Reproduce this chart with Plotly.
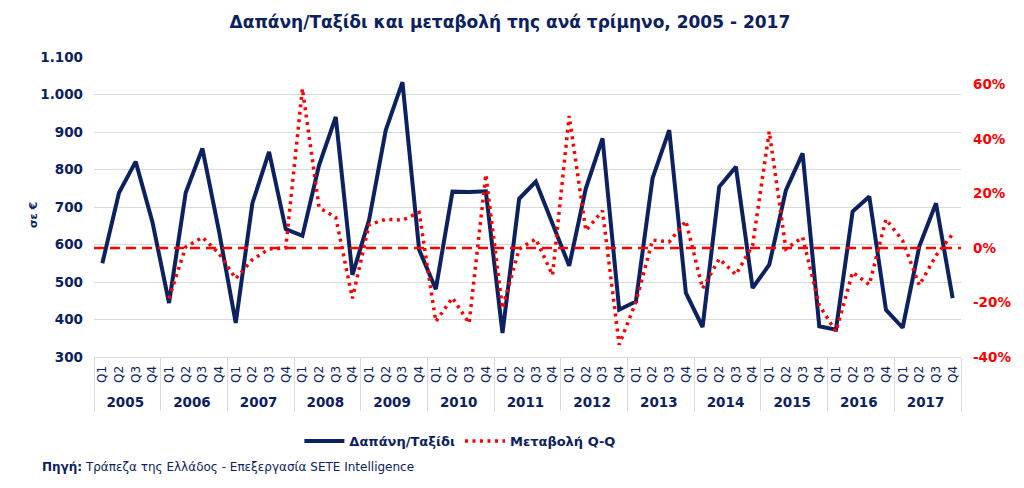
import plotly.graph_objects as go

YEARS = ["2005", "2006", "2007", "2008", "2009", "2010", "2011",
         "2012", "2013", "2014", "2015", "2016", "2017"]
QUARTERS = ["Q1", "Q2", "Q3", "Q4"]

# Δαπάνη/Ταξίδι (€), per quarter
SPEND = [
    550, 738, 821, 661,
    444, 738, 856, 635,
    391, 710, 847, 641,
    623, 812, 940, 519,
    666, 905, 1033, 586,
    481, 741, 740, 742,
    364, 722, 768, 657,
    543, 750, 883, 426,
    448, 777, 905, 471,
    380, 754, 807, 484,
    546, 745, 843, 382,
    373, 688, 728, 426,
    378, 595, 710, 457,
]

# Μεταβολή Q-Q (%), per quarter
CHANGE = [
    None, None, None, None,
    -18.5, 0.3, 3.9, -2.0,
    -11.3, -4.3, -0.4, 0.0,
    58.4, 14.8, 11.2, -18.5,
    8.5, 10.5, 10.2, 13.0,
    -27.0, -18.3, -27.6, 26.9,
    -22.2, -0.4, 3.3, -10.0,
    48.4, 6.3, 13.6, -35.5,
    -19.8, 2.9, 2.2, 9.9,
    -14.9, -4.0, -9.8, 0.9,
    42.7, -0.4, 3.9, -21.0,
    -30.7, -8.9, -13.5, 10.5,
    2.7, -13.7, -2.8, 5.1,
]

LEFT_TICKS = [300, 400, 500, 600, 700, 800, 900, 1000, 1100]
LEFT_LABELS = ["300", "400", "500", "600", "700", "800", "900", "1.000", "1.100"]
RIGHT_TICKS = [-0.4, -0.2, 0.0, 0.2, 0.4, 0.6]
RIGHT_LABELS = ["-40%", "-20%", "0%", "20%", "40%", "60%"]

NAVY = "#0C2160"
RED = "#FF0000"
GRID = "#D9D9D9"
FONT = "DejaVu Sans"

x_outer = []
x_inner = []
for y in YEARS:
    for q in QUARTERS:
        x_outer.append("<b><span style='font-size:13.5px'>%s</span></b>" % y)
        x_inner.append(" " + q)

change_frac = [None if c is None else c / 100.0 for c in CHANGE]
n_points = len(SPEND)

fig = go.Figure()
fig.add_trace(go.Scatter(
    x=[x_outer, x_inner], y=SPEND, name="Δαπάνη/Ταξίδι",
    mode="lines", line=dict(color=NAVY, width=4),
))
fig.add_trace(go.Scatter(
    x=[x_outer, x_inner], y=change_frac, name="Μεταβολή Q-Q",
    mode="lines", line=dict(color=RED, width=3.5, dash="3px,4.5px"),
    yaxis="y2",
))

fig.add_shape(type="line", xref="paper", x0=0, x1=1, yref="y2", y0=0, y1=0,
              line=dict(color=RED, width=2.5, dash="10px,6px"), layer="above")

fig.update_layout(
    width=1016, height=480,
    margin=dict(l=86, r=63, t=49, b=131, autoexpand=False),
    paper_bgcolor="white", plot_bgcolor="white",
    font=dict(family=FONT, color=NAVY),
    title=dict(text="<b>Δαπάνη/Ταξίδι και μεταβολή της ανά τρίμηνο, 2005 - 2017</b>",
               x=0.494, xanchor="center", y=0.971, yanchor="middle",
               font=dict(family=FONT, size=17, color=NAVY)),
    xaxis=dict(type="multicategory", tickangle=-90, range=[-0.5, n_points - 0.5],
               tickfont=dict(family=FONT, size=12, color=NAVY),
               showline=True, linecolor=GRID, linewidth=1,
               showdividers=True, dividercolor=GRID, dividerwidth=1,
               showgrid=False, ticks="", automargin=False, ticklabelstandoff=3),
    yaxis=dict(range=[300, 1100], tickvals=LEFT_TICKS, ticktext=LEFT_LABELS,
               tickfont=dict(family=FONT, size=13.5, color=NAVY, weight="bold"),
               gridcolor=GRID, gridwidth=1, zeroline=False, ticks="",
               ticklabelstandoff=10, automargin=False),
    yaxis2=dict(range=[-0.4, 0.7], tickvals=RIGHT_TICKS, ticktext=RIGHT_LABELS,
                overlaying="y", side="right", showgrid=False, zeroline=False,
                tickfont=dict(family=FONT, size=13.5, color=RED, weight="bold"),
                ticks="", ticklabelstandoff=11, automargin=False),
    legend=dict(orientation="h", x=0.422, xanchor="center", y=-0.28, yanchor="middle",
                font=dict(family=FONT, size=13, color=NAVY, weight="bold"),
                itemwidth=40, bgcolor="rgba(0,0,0,0)"),
    showlegend=True,
)

fig.add_annotation(text="<b>σε €</b>", textangle=-90, xref="paper", yref="paper",
                   x=-0.0704, xanchor="center", y=0.473, yanchor="middle",
                   showarrow=False, font=dict(family=FONT, size=11, color=NAVY))
fig.add_annotation(text="<b>Πηγή:</b> Τράπεζα της Ελλάδος - Επεξεργασία SETE Intelligence",
                   xref="paper", yref="paper", x=-0.0623, xanchor="left",
                   y=-0.367, yanchor="middle", showarrow=False,
                   font=dict(family=FONT, size=12, color=NAVY))

fig.write_html("out.html")
